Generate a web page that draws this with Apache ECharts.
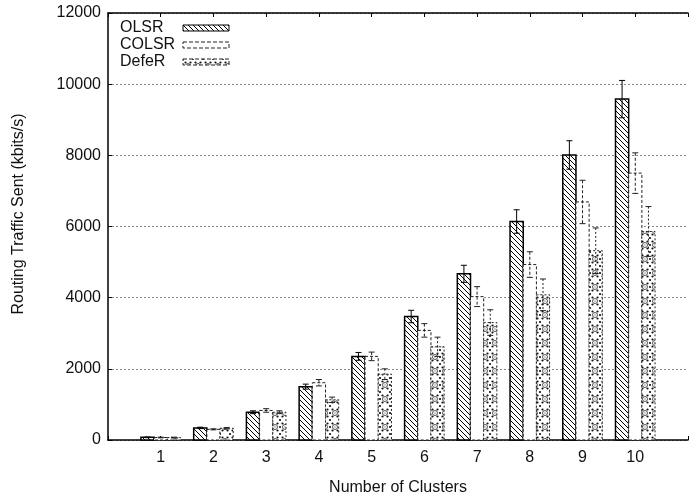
<!DOCTYPE html>
<html>
<head>
<meta charset="utf-8">
<script src="https://cdn.jsdelivr.net/npm/echarts@6/dist/echarts.min.js"></script>
<style>
  html, body { margin: 0; padding: 0; background: #fff; }
  #chart { width: 691px; height: 501px; }
</style>
</head>
<body>
<div id="chart"></div>
<script>
  const clusters = [1, 2, 3, 4, 5, 6, 7, 8, 9, 10];
  const olsr = [75, 340, 780, 1500, 2350, 3470, 4670, 6140, 8010, 9580];
  const olsrErr = [10, 20, 40, 70, 110, 175, 240, 330, 400, 525];
  const colsr = [70, 300, 830, 1610, 2350, 3080, 4030, 4930, 6690, 7500];
  const colsrErr = [10, 15, 50, 90, 120, 190, 280, 360, 610, 570];
  const defer = [70, 330, 780, 1130, 1850, 2620, 3300, 4080, 5320, 5860];
  const deferErr = [10, 20, 40, 75, 150, 270, 360, 445, 640, 700];

  const FONT = '"Liberation Sans", Arial, sans-serif';

  // fill patterns
  function hatchPattern() {
    const s = 5;
    const c = document.createElement('canvas');
    c.width = s; c.height = s;
    const g = c.getContext('2d');
    g.fillStyle = '#fff'; g.fillRect(0, 0, s, s);
    g.strokeStyle = '#000'; g.lineWidth = 1;
    [-s, 0, s].forEach(k => {
      g.beginPath(); g.moveTo(k, 0); g.lineTo(k + s, s); g.stroke();
    });
    return { image: c, repeat: 'repeat' };
  }

  function dotPattern() {
    const c = document.createElement('canvas');
    c.width = 10; c.height = 14;
    const g = c.getContext('2d');
    g.fillStyle = '#fff'; g.fillRect(0, 0, 10, 14);
    g.fillStyle = '#111';
    [[0, 0], [10, 0], [0, 14], [10, 14], [2.5, 3.5], [7.5, 3.5], [2.5, 10.5], [7.5, 10.5], [0, 7], [10, 7]].forEach(p => {
      g.beginPath(); g.arc(p[0], p[1], 1.1, 0, Math.PI * 2); g.fill();
    });
    g.strokeStyle = '#444'; g.lineWidth = 0.9;
    g.beginPath(); g.arc(5, 7, 2.5, 0, Math.PI * 2); g.stroke();
    g.fillStyle = '#444';
    g.fillRect(4.5, 6.5, 1, 1);
    return { image: c, repeat: 'repeat' };
  }

  const styles = {
    OLSR: { fill: hatchPattern(), stroke: '#000', lineWidth: 1.5, lineDash: null },
    COLSR: { fill: '#fff', stroke: '#222', lineWidth: 1, lineDash: [3, 2] },
    DefeR: { fill: dotPattern(), stroke: '#222', lineWidth: 1, lineDash: [2, 2] }
  };

  const BAR_W = 0.25;

  function barRender(name, offset) {
    return function (params, api) {
      const x = api.value(0) + offset;
      const y = api.value(1);
      const p0 = api.coord([x, 0]);
      const p1 = api.coord([x, y]);
      const w = api.size([BAR_W, 0])[0];
      const st = styles[name];
      return {
        type: 'rect',
        shape: { x: p1[0] - w / 2, y: p1[1], width: w, height: p0[1] - p1[1] },
        style: { fill: st.fill, stroke: st.stroke, lineWidth: st.lineWidth, lineDash: st.lineDash }
      };
    };
  }

  function errRender(name, offset) {
    return function (params, api) {
      const x = api.value(0) + offset;
      const y = api.value(1);
      const e = api.value(2);
      const hi = api.coord([x, y + e]);
      const lo = api.coord([x, y - e]);
      const st = styles[name];
      const cap = 3;
      const ls = { stroke: st.stroke, lineWidth: 1, lineDash: st.lineDash };
      return {
        type: 'group',
        children: [
          { type: 'line', shape: { x1: hi[0], y1: hi[1], x2: lo[0], y2: lo[1] }, style: ls },
          { type: 'line', shape: { x1: hi[0] - cap, y1: hi[1], x2: hi[0] + cap, y2: hi[1] }, style: { stroke: st.stroke, lineWidth: 1 } },
          { type: 'line', shape: { x1: lo[0] - cap, y1: lo[1], x2: lo[0] + cap, y2: lo[1] }, style: { stroke: st.stroke, lineWidth: 1 } }
        ]
      };
    };
  }

  const defs = [
    { name: 'OLSR', vals: olsr, errs: olsrErr, off: -BAR_W },
    { name: 'COLSR', vals: colsr, errs: colsrErr, off: 0 },
    { name: 'DefeR', vals: defer, errs: deferErr, off: BAR_W }
  ];

  const series = [];
  defs.forEach(d => {
    series.push({
      name: d.name,
      type: 'custom',
      renderItem: barRender(d.name, d.off),
      data: clusters.map((c, i) => [c, d.vals[i]]),
      encode: { x: 0, y: 1 },
      z: 2
    });
  });
  defs.forEach(d => {
    series.push({
      name: d.name + ' err',
      type: 'custom',
      renderItem: errRender(d.name, d.off),
      data: clusters.map((c, i) => [c, d.vals[i], d.errs[i]]),
      encode: { x: 0, y: 1 },
      z: 3
    });
  });

  const chart = echarts.init(document.getElementById('chart'), null, { renderer: 'canvas' });
  chart.setOption({
    backgroundColor: '#fff',
    animation: false,
    textStyle: { fontFamily: FONT },
    grid: { left: 108, right: -4, top: 13, bottom: 56 },
    legend: {
      orient: 'vertical',
      left: 120,
      top: 20,
      padding: 0,
      align: 'right',
      itemWidth: 46,
      itemHeight: 6,
      itemGap: 1,
      selectedMode: false,
      formatter: '{t|{name}}',
      textStyle: {
        fontSize: 16, color: '#111', lineHeight: 16, fontFamily: FONT,
        rich: { t: { width: 58, align: 'left', fontSize: 16, lineHeight: 16, fontFamily: FONT, color: '#111' } }
      },
      data: [
        { name: 'OLSR', icon: 'rect', itemStyle: { color: styles.OLSR.fill, borderColor: '#000', borderWidth: 1 } },
        { name: 'COLSR', icon: 'rect', itemStyle: { color: '#fff', borderColor: '#222', borderWidth: 1, borderType: 'dashed' } },
        { name: 'DefeR', icon: 'rect', itemStyle: { color: styles.DefeR.fill, borderColor: '#222', borderWidth: 1, borderType: 'dashed' } }
      ]
    },
    xAxis: [
      {
        type: 'value',
        min: 0,
        max: 11,
        interval: 1,
        name: 'Number of Clusters',
        nameLocation: 'middle',
        nameGap: 40,
        nameTextStyle: { fontSize: 16, color: '#111', fontFamily: FONT },
        axisLine: { onZero: false, lineStyle: { color: '#000', width: 1.5 } },
        axisTick: { inside: true, length: 4, lineStyle: { color: '#000' } },
        axisLabel: {
          fontSize: 16, color: '#111', margin: 10,
          formatter: v => (v >= 1 && v <= 10 ? String(v) : '')
        },
        splitLine: { show: false }
      },
      {
        type: 'value',
        position: 'top',
        min: 0,
        max: 11,
        interval: 1,
        axisLine: { onZero: false, lineStyle: { color: '#000', width: 1.5 } },
        axisTick: { inside: true, length: 4, lineStyle: { color: '#000' } },
        axisLabel: { show: false },
        splitLine: { show: false }
      }
    ],
    yAxis: {
      type: 'value',
      min: 0,
      max: 12000,
      interval: 2000,
      axisLine: { show: true, onZero: false, lineStyle: { color: '#000', width: 1.5 } },
      axisTick: { show: true, inside: true, length: 4, lineStyle: { color: '#000' } },
      axisLabel: { fontSize: 16, color: '#111', margin: 7, formatter: v => String(v) },
      splitLine: { show: true, lineStyle: { color: '#888', type: [2, 2], width: 1 } }
    },
    graphic: [
      {
        type: 'text',
        x: 19,
        y: 214,
        rotation: Math.PI / 2,
        style: {
          text: 'Routing Traffic Sent (kbits/s)',
          font: '16px ' + FONT,
          fill: '#111',
          align: 'center',
          verticalAlign: 'middle'
        }
      }
    ],
    series: series
  });
</script>
</body>
</html>
